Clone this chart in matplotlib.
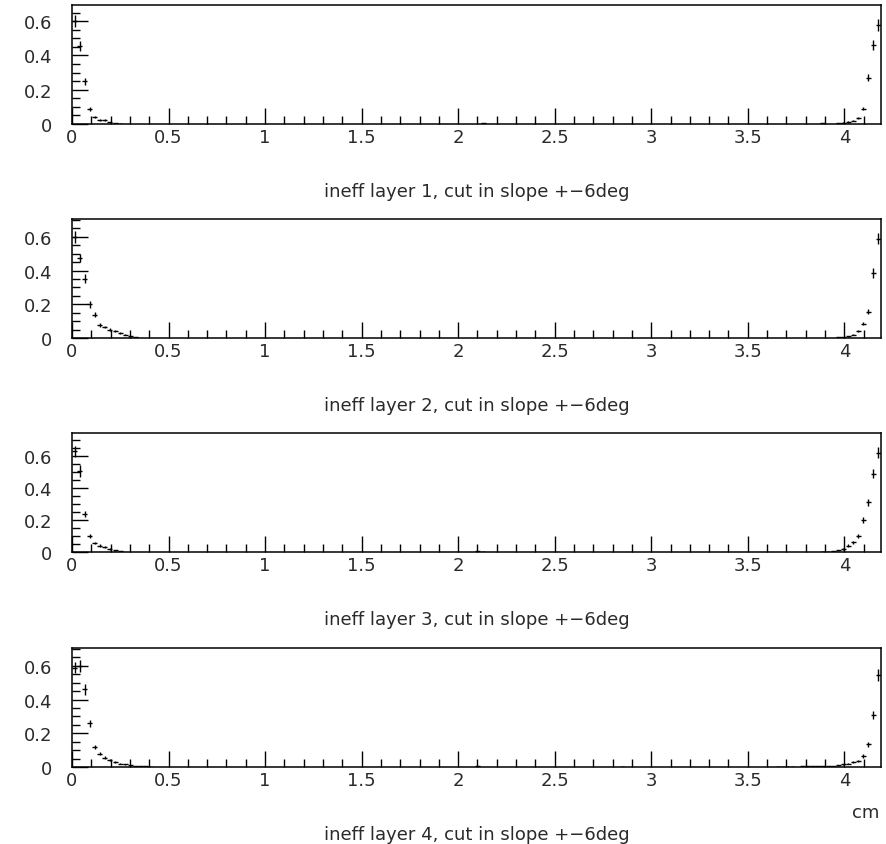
import matplotlib
matplotlib.use("Agg")
import matplotlib.pyplot as plt
from matplotlib.ticker import MultipleLocator, FuncFormatter

# ---- data (bin centres in cm, inefficiency, error) ----
bin_half_width = 0.0131

x1 = [0.013, 0.039, 0.066, 0.092, 0.118, 0.144, 0.170, 0.196, 0.223, 0.249,
      2.130,
      3.889, 3.968, 3.994, 4.020, 4.046, 4.072, 4.099, 4.125, 4.151, 4.177]
y1 = [0.600, 0.455, 0.250, 0.088, 0.040, 0.025, 0.022, 0.010, 0.005, 0.002,
      0.004,
      0.003, 0.004, 0.008, 0.012, 0.020, 0.035, 0.090, 0.270, 0.460, 0.580]
e1 = [0.035, 0.030, 0.020, 0.010, 0.007, 0.005, 0.005, 0.003, 0.002, 0.001,
      0.002,
      0.002, 0.002, 0.003, 0.004, 0.005, 0.007, 0.011, 0.022, 0.030, 0.035]

x2 = [0.013, 0.039, 0.066, 0.092, 0.118, 0.144, 0.170, 0.196, 0.223, 0.249,
      0.275, 0.301, 0.327,
      3.968, 3.994, 4.020, 4.046, 4.072, 4.099, 4.125, 4.151, 4.177]
y2 = [0.600, 0.475, 0.353, 0.200, 0.137, 0.078, 0.065, 0.050, 0.040, 0.028,
      0.020, 0.010, 0.005,
      0.003, 0.005, 0.010, 0.020, 0.040, 0.085, 0.155, 0.385, 0.590]
e2 = [0.035, 0.025, 0.027, 0.020, 0.015, 0.010, 0.008, 0.007, 0.006, 0.005,
      0.004, 0.003, 0.002,
      0.002, 0.002, 0.003, 0.005, 0.007, 0.010, 0.015, 0.030, 0.035]

x3 = [0.013, 0.039, 0.066, 0.092, 0.118, 0.144, 0.170, 0.196, 0.223, 0.249,
      2.100, 2.130,
      3.889, 3.916, 3.942, 3.968, 3.994, 4.020, 4.046, 4.072, 4.099, 4.125,
      4.151, 4.177]
y3 = [0.630, 0.508, 0.237, 0.098, 0.056, 0.040, 0.030, 0.020, 0.010, 0.005,
      0.004, 0.003,
      0.003, 0.003, 0.005, 0.010, 0.020, 0.040, 0.060, 0.100, 0.200, 0.310,
      0.490, 0.620]
e3 = [0.035, 0.036, 0.020, 0.012, 0.009, 0.007, 0.006, 0.005, 0.003, 0.002,
      0.002, 0.002,
      0.002, 0.002, 0.002, 0.003, 0.005, 0.007, 0.009, 0.012, 0.018, 0.024,
      0.030, 0.035]

x4 = [0.013, 0.039, 0.066, 0.092, 0.118, 0.144, 0.170, 0.196, 0.223, 0.249,
      0.275, 0.301, 0.327, 0.353, 0.380, 0.406,
      2.100, 2.850,
      3.654, 3.680, 3.706, 3.732, 3.784, 3.810, 3.837, 3.863,
      3.889, 3.916, 3.942, 3.968, 3.994, 4.020, 4.046, 4.072, 4.099, 4.125,
      4.151, 4.177]
y4 = [0.590, 0.600, 0.460, 0.260, 0.120, 0.080, 0.055, 0.040, 0.030, 0.020,
      0.015, 0.010, 0.006, 0.004, 0.003, 0.002,
      0.003, 0.002,
      0.002, 0.002, 0.002, 0.002, 0.003, 0.003, 0.003, 0.003,
      0.003, 0.004, 0.005, 0.010, 0.015, 0.020, 0.028, 0.035, 0.066, 0.135,
      0.310, 0.545]
e4 = [0.035, 0.035, 0.030, 0.020, 0.013, 0.010, 0.008, 0.007, 0.006, 0.005,
      0.004, 0.003, 0.002, 0.002, 0.002, 0.001,
      0.002, 0.001,
      0.001, 0.001, 0.001, 0.001, 0.001, 0.001, 0.001, 0.001,
      0.002, 0.002, 0.002, 0.003, 0.004, 0.005, 0.006, 0.007, 0.010, 0.015,
      0.024, 0.035]

titles = ["ineff layer 1, cut in slope +\u22126deg",
          "ineff layer 2, cut in slope +\u22126deg",
          "ineff layer 3, cut in slope +\u22126deg",
          "ineff layer 4, cut in slope +\u22126deg"]
ymax = [0.694, 0.706, 0.744, 0.706]
xmax = 4.19
x_unit = "cm"

series = [(x1, y1, e1), (x2, y2, e2), (x3, y3, e3), (x4, y4, e4)]

# ---- layout (pixels) ----
W, H = 887, 845
fig = plt.figure(figsize=(W / 100, H / 100), dpi=100)
plt.rcParams['font.family'] = ['DejaVu Sans']

left_px, right_px = 72, 881
tops = [6, 220, 434, 649]
panel_h = 119
title_offset = 67
fs = 13

fmt = FuncFormatter(lambda v, p: "%g" % round(v, 3))

for i, ((xs, ys, es), title) in enumerate(zip(series, titles)):
    top = tops[i]
    bottom = top + panel_h
    ax = fig.add_axes([left_px / W, 1 - bottom / H,
                       (right_px - left_px) / W, panel_h / H])
    ax.errorbar(xs, ys, xerr=bin_half_width, yerr=es, fmt='none',
                ecolor='black', elinewidth=1.0, capsize=0)
    ax.set_xlim(0, xmax)
    ax.set_ylim(0, ymax[i])
    ax.xaxis.set_major_locator(MultipleLocator(0.5))
    ax.xaxis.set_minor_locator(MultipleLocator(0.1))
    ax.yaxis.set_major_locator(MultipleLocator(0.2))
    ax.yaxis.set_minor_locator(MultipleLocator(0.05))
    ax.xaxis.set_major_formatter(fmt)
    ax.yaxis.set_major_formatter(fmt)
    ax.tick_params(which='both', direction='in', top=False, right=False,
                   width=1.0, color='black', labelsize=fs, labelcolor='#2a2a2a')
    ax.tick_params(which='major', length=11.5)
    ax.tick_params(which='minor', length=6)
    ax.tick_params(axis='x', which='major', pad=3)
    ax.tick_params(axis='y', which='major', pad=14)
    for s in ax.spines.values():
        s.set_linewidth(1.1)
        s.set_color('black')
    ty = bottom + title_offset
    fig.text(0.5 * (left_px + right_px) / W, 1 - ty / H, title,
             ha='center', va='center', fontsize=fs, color='#2a2a2a')

fig.text(879 / W, 1 - 813 / H, x_unit, ha='right', va='center',
         fontsize=fs, color='#2a2a2a')

fig.savefig("out.png", dpi=100)
